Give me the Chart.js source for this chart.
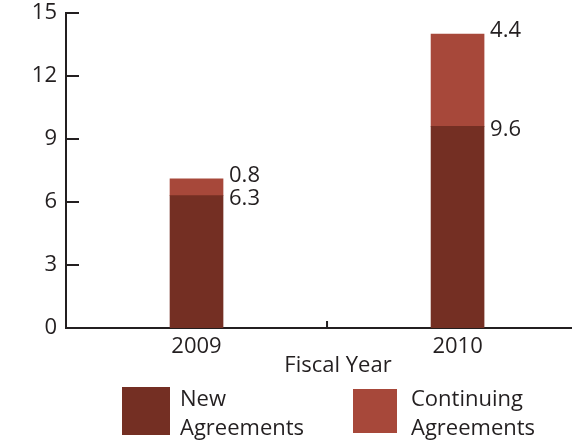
<!DOCTYPE html>
<html>
<head>
<meta charset="utf-8">
<script src="https://cdn.jsdelivr.net/npm/chart.js@4.4.1/dist/chart.umd.min.js"></script>
<style>
    html, body { margin: 0; padding: 0; background: #fff; overflow: hidden; }
    #wrap { position: relative; width: 572px; height: 445px; overflow: hidden; }
    #grafico { display: block; }
    .legenda { position: absolute; font-family: "Open Sans", sans-serif; font-size: 22px; line-height: 29px; color: #231f20; }
    .legenda .caixa { position: absolute; }
    .legenda .texto { position: absolute; white-space: nowrap; }
</style>
</head>
<body>
<div id="wrap">
    <canvas id="grafico" width="610" height="445"></canvas>
    <div class="legenda" style="left:122px; top:387px;">
        <div class="caixa" id="caixaNovos" style="left:0; top:0; width:48px; height:48px;"></div>
        <div class="texto" style="left:58px; top:-4px;">New<br>Agreements</div>
    </div>
    <div class="legenda" style="left:353px; top:389px;">
        <div class="caixa" id="caixaContinuos" style="left:0; top:0; width:44px; height:44px;"></div>
        <div class="texto" style="left:58px; top:-6px;">Continuing<br>Agreements</div>
    </div>
</div>
<script>
var anos = ["2009", "2010"];
var novos = [6.3, 9.6];
var continuos = [0.8, 4.4];
var ticksY = [0, 3, 6, 9, 12, 15];

var corNovos = "#742f23";
var corContinuos = "#a7483a";
var corTexto = "#231f20";
var fonte = "'Open Sans', sans-serif";

document.getElementById("caixaNovos").style.background = corNovos;
document.getElementById("caixaContinuos").style.background = corContinuos;

function pontos(valores) {
    return valores.map((v, i) => ({ x: i, y: v }));
}

// tracinhos do eixo: Y para dentro, e um separador no meio do eixo X
var marcasEixos = {
    id: "marcasEixos",
    afterDraw(chart) {
        const ctx = chart.ctx;
        const x = chart.scales.x;
        const y = chart.scales.y;
        ctx.save();
        ctx.strokeStyle = corTexto;
        ctx.lineWidth = 2;
        ctx.beginPath();
        ticksY.forEach((t) => {
            const py = y.getPixelForValue(t);
            ctx.moveTo(x.left, py);
            ctx.lineTo(x.left + 13, py);
        });
        const meio = x.getPixelForValue(0.5);
        ctx.moveTo(meio, y.bottom);
        ctx.lineTo(meio, y.bottom - 7);
        ctx.stroke();
        ctx.restore();
    }
};

// valor de cada segmento escrito à direita da barra
var rotulos = {
    id: "rotulos",
    afterDatasetsDraw(chart) {
        const ctx = chart.ctx;
        ctx.save();
        ctx.fillStyle = corTexto;
        ctx.font = "22px " + fonte;
        ctx.textAlign = "left";
        ctx.textBaseline = "middle";
        chart.data.datasets.forEach((ds, di) => {
            const meta = chart.getDatasetMeta(di);
            const desvio = di === 0 ? 3 : -3;
            meta.data.forEach((el, i) => {
                ctx.fillText(ds.data[i].y.toFixed(1), el.x + el.width / 2 + 6, el.y + desvio);
            });
        });
        ctx.restore();
    }
};

new Chart(document.getElementById("grafico"), {
    type: "bar",
    data: {
        datasets: [
            {
                label: "New Agreements",
                data: pontos(novos),
                backgroundColor: corNovos,
                barThickness: 53
            },
            {
                label: "Continuing Agreements",
                data: pontos(continuos),
                backgroundColor: corContinuos,
                barThickness: 53
            }
        ]
    },
    options: {
        responsive: false,
        animation: false,
        layout: { padding: { top: 13, right: 0, bottom: 66, left: 0 } },
        plugins: {
            legend: { display: false },
            tooltip: { enabled: false }
        },
        scales: {
            x: {
                type: "linear",
                stacked: true,
                offset: false,
                bounds: "data",
                min: -0.5,
                max: 1.584,
                afterBuildTicks: (scale) => {
                    scale.ticks = anos.map((a, i) => ({ value: i }));
                },
                afterFit: (scale) => {
                    scale.height = 51;
                    scale.paddingLeft = 0;
                    scale.paddingRight = 0;
                },
                ticks: {
                    color: corTexto,
                    font: { family: fonte, size: 22 },
                    padding: 6,
                    callback: (v) => anos[v]
                },
                grid: { display: false, drawTicks: false, offset: false },
                border: { display: true, color: corTexto, width: 2 },
                title: {
                    display: true,
                    text: "Fiscal Year",
                    color: corTexto,
                    font: { family: fonte, size: 22 },
                    padding: { top: 0, bottom: 0 }
                }
            },
            y: {
                stacked: true,
                min: 0,
                max: 15,
                afterBuildTicks: (scale) => {
                    scale.ticks = ticksY.map((t) => ({ value: t }));
                },
                afterFit: (scale) => {
                    scale.width = 66;
                    scale.paddingTop = 0;
                    scale.paddingBottom = 0;
                },
                ticks: {
                    color: corTexto,
                    font: { family: fonte, size: 22 },
                    padding: 9
                },
                grid: { display: false, drawTicks: false },
                border: { display: true, color: corTexto, width: 2 }
            }
        }
    },
    plugins: [marcasEixos, rotulos]
});
</script>
</body>
</html>
